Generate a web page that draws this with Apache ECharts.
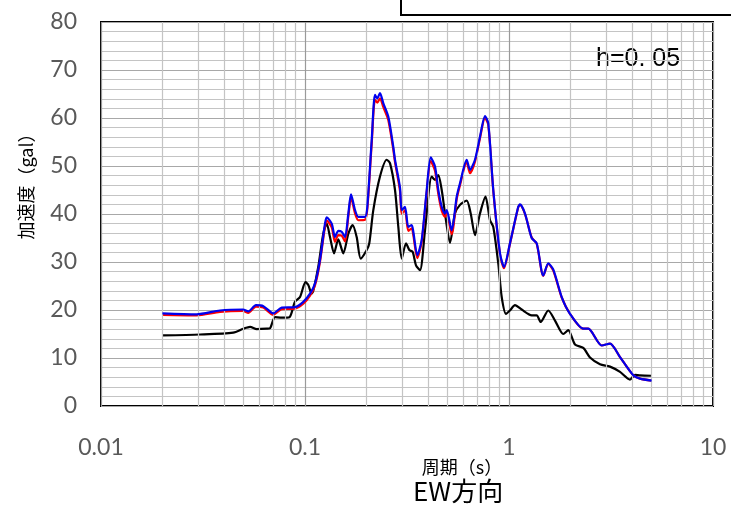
<!DOCTYPE html>
<html>
<head>
<meta charset="utf-8">
<script src="https://cdn.jsdelivr.net/npm/echarts@6/dist/echarts.min.js"></script>
<style>
  html, body { margin: 0; padding: 0; background: #fff; }
  #chart { width: 731px; height: 507px; }
</style>
</head>
<body>
<div id="chart"></div>
<script>
// Acceleration response spectra (h = 0.05), EW component
// Period (s) / acceleration (gal) pairs for each spectrum

const periodsBlack = [0.0200, 0.0306, 0.0445, 0.0498, 0.0538, 0.0580, 0.0649, 0.0674, 0.0713, 0.0769,
  0.0838, 0.0893, 0.0945, 0.1006, 0.1038, 0.1078, 0.1098, 0.1162, 0.1229, 0.1278,
  0.1326, 0.1388, 0.1456, 0.1541, 0.1631, 0.1713, 0.1792, 0.1875, 0.2007, 0.2066,
  0.2162, 0.2331, 0.2515, 0.2610, 0.2762, 0.2867, 0.2979, 0.3127, 0.3246, 0.3372,
  0.3500, 0.3662, 0.3875, 0.4179, 0.4338, 0.4502, 0.4679, 0.4857, 0.5139, 0.5436,
  0.5752, 0.6203, 0.6490, 0.6812, 0.7207, 0.7670, 0.8071, 0.8375, 0.8860, 0.9209,
  0.9667, 1.011, 1.070, 1.154, 1.292, 1.367, 1.430, 1.558, 1.681, 1.846,
  1.953, 2.106, 2.313, 2.495, 2.793, 3.127, 3.501, 3.918, 4.147, 4.387, 5.000];
const accBlack = [14.7, 14.9, 15.3, 16.1, 16.5, 16.0, 16.1, 16.2, 18.5, 18.4,
  18.5, 21.7, 22.7, 25.8, 25.2, 23.4, 24.0, 29.0, 35.9, 38.0,
  35.2, 31.8, 34.7, 31.8, 35.9, 37.7, 35.2, 30.7, 32.5, 33.9,
  40.8, 47.8, 51.3, 50.6, 45.0, 37.3, 30.7, 33.9, 32.5, 32.1,
  29.3, 28.3, 36.6, 47.8, 47.1, 48.1, 45.0, 40.1, 34.0, 40.1,
  41.9, 42.8, 40.1, 35.6, 40.1, 43.6, 38.7, 37.3, 29.7, 22.7,
  19.2, 19.9, 21.0, 20.1, 18.9, 18.9, 17.5, 19.9, 17.8, 15.0,
  15.8, 12.8, 12.1, 10.1, 8.7, 8.2, 7.1, 5.5, 6.5, 6.4, 6.3];

const periodsModel = [0.0200, 0.0294, 0.0383, 0.0497, 0.0527, 0.0575, 0.0625, 0.0699, 0.0769, 0.0893,
  0.0981, 0.1058, 0.1119, 0.1184, 0.1253, 0.1278, 0.1352, 0.1403, 0.1456, 0.1513,
  0.1571, 0.1631, 0.1681, 0.1759, 0.1826, 0.1968, 0.2020, 0.2123, 0.2203, 0.2261,
  0.2331, 0.2419, 0.2560, 0.2709, 0.2762, 0.2922, 0.2979, 0.3092, 0.3209, 0.3334,
  0.3396, 0.3552, 0.3733, 0.3950, 0.4132, 0.4338, 0.4502, 0.4679, 0.4857, 0.4951,
  0.5238, 0.5542, 0.5752, 0.6203, 0.6438, 0.6812, 0.7207, 0.7628, 0.7916, 0.8375,
  0.9035, 0.9451, 1.011, 1.110, 1.132, 1.198, 1.292, 1.367, 1.473, 1.558,
  1.649, 1.813, 1.991, 2.313, 2.447, 2.848, 3.127, 3.501, 4.067, 4.387, 5.000];
const accRed = [19.0, 18.9, 19.6, 19.8, 19.4, 20.7, 20.5, 19.0, 20.2, 20.3,
  21.3, 23.0, 25.1, 30.0, 37.4, 38.6, 37.2, 34.2, 35.6, 35.5,
  34.3, 39.5, 43.5, 40.1, 38.7, 38.8, 41.0, 54.6, 63.8, 63.2,
  64.1, 62.3, 59.6, 53.4, 50.8, 44.8, 40.0, 40.8, 36.5, 37.0,
  35.6, 30.8, 34.2, 44.5, 51.0, 49.0, 44.2, 40.7, 39.4, 40.1,
  35.8, 43.1, 46.0, 50.8, 48.5, 50.9, 55.8, 60.0, 58.6, 44.8,
  31.6, 28.7, 33.8, 41.4, 41.9, 40.0, 35.1, 33.8, 27.1, 29.6,
  28.2, 22.6, 19.2, 16.1, 16.1, 12.6, 13.0, 10.2, 6.4, 5.7, 5.3];
const accBlue = [19.3, 19.1, 19.9, 20.1, 19.7, 21.0, 20.8, 19.3, 20.5, 20.6,
  21.7, 23.4, 25.5, 30.4, 38.0, 39.3, 38.0, 35.2, 36.5, 36.3,
  35.2, 40.1, 44.1, 40.8, 39.4, 39.4, 41.5, 55.4, 64.8, 64.1,
  65.2, 63.1, 60.3, 54.0, 51.3, 45.5, 40.8, 41.5, 37.3, 37.7,
  36.3, 31.4, 34.6, 45.0, 51.8, 49.9, 45.0, 41.5, 40.1, 40.8,
  36.6, 43.6, 46.4, 51.3, 49.2, 51.3, 56.1, 60.4, 58.9, 45.0,
  31.8, 29.0, 33.9, 41.5, 42.0, 40.1, 35.0, 33.9, 27.2, 29.7,
  28.4, 22.7, 19.2, 16.1, 16.1, 12.6, 13.0, 10.2, 6.4, 5.7, 5.3];

// Axis ticks
const periodTickLabels = ['0.01', '0.1', '1', '10'];
const minorPeriods = [0.02, 0.03, 0.04, 0.05, 0.06, 0.07, 0.08, 0.09,
  0.2, 0.3, 0.4, 0.5, 0.6, 0.7, 0.8, 0.9,
  2, 3, 4, 5, 6, 7, 8, 9];

const zip = (xs, ys) => xs.map((x, i) => [x, ys[i]]);

const chart = echarts.init(document.getElementById('chart'), null, { renderer: 'canvas' });

const labelFont = 'Lato, "Liberation Sans", sans-serif';
const cjkFont = '"Noto Sans CJK JP", sans-serif';

const curve = (data, color, z) => ({
  type: 'line',
  data: data,
  showSymbol: false,
  smooth: 0.25,
  z: z,
  lineStyle: { color: color, width: 2.2 },
  itemStyle: { color: color }
});

chart.setOption({
  animation: false,
  backgroundColor: '#ffffff',
  title: {
    text: 'EW方向',
    left: 413,
    top: 478,
    padding: 0,
    textStyle: { fontFamily: cjkFont, fontSize: 26, fontWeight: 'normal', color: '#000' }
  },
  grid: {
    left: 101, right: 18, top: 22, bottom: 101,
    show: true, borderColor: '#000', borderWidth: 2, backgroundColor: 'transparent'
  },
  xAxis: {
    type: 'log',
    logBase: 10,
    min: 0.01,
    max: 10,
    axisLine: { show: false },
    axisTick: { show: false },
    splitLine: { show: true, lineStyle: { color: '#9a9a9a', width: 1.2 } },
    axisLabel: {
      margin: 30,
      color: '#595959',
      fontSize: 23,
      fontFamily: labelFont,
      showMinLabel: true,
      showMaxLabel: true,
      formatter: v => periodTickLabels[Math.round(Math.log10(v)) + 2]
    }
  },
  yAxis: {
    type: 'value',
    min: 0,
    max: 80,
    interval: 10,
    axisLine: { show: false },
    axisTick: { show: false },
    splitLine: { show: true, lineStyle: { color: '#a8a8a8', width: 1.2 } },
    minorTick: { show: false, splitNumber: 5 },
    minorSplitLine: { show: true, lineStyle: { color: '#c4c4c4', width: 1.2 } },
    axisLabel: {
      margin: 24,
      color: '#595959',
      fontSize: 23,
      fontFamily: labelFont
    }
  },
  series: [
    {
      // minor vertical grid lines of the log period axis
      type: 'line',
      data: [],
      z: 1,
      silent: true,
      markLine: {
        silent: true,
        symbol: ['none', 'none'],
        label: { show: false },
        lineStyle: { color: '#c4c4c4', type: 'solid', width: 1.2 },
        emphasis: { disabled: true },
        data: minorPeriods.map(p => ({ xAxis: p }))
      }
    },
    curve(zip(periodsBlack, accBlack), '#000000', 3),
    curve(zip(periodsModel, accRed), '#ff0000', 4),
    curve(zip(periodsModel, accBlue), '#0000ee', 5)
  ],
  graphic: [
    {
      // damping annotation
      type: 'group',
      z: 10,
      children: [
        { type: 'rect', shape: { x: 588, y: 45, width: 104, height: 43 }, style: { fill: '#ffffff' } },
        {
          type: 'text', x: 596, y: 59,
          style: { text: 'h=0. 05', font: '25px "Liberation Sans", Arial, sans-serif', fill: '#000', verticalAlign: 'middle' }
        }
      ]
    },
    {
      // legend frame along the top edge
      type: 'rect', z: 10,
      shape: { x: 401, y: -20, width: 360, height: 35 },
      style: { fill: '#ffffff', stroke: '#000000', lineWidth: 2 }
    },
    {
      type: 'text', z: 10, x: 462, y: 467,
      style: { text: '周期（s）', font: '18px "Noto Sans CJK JP", sans-serif', fill: '#000', align: 'center', verticalAlign: 'middle' }
    },
    {
      type: 'text', z: 10, x: 26, y: 182, rotation: Math.PI / 2,
      style: { text: '加速度（gal）', font: '18px "Noto Sans CJK JP", sans-serif', fill: '#000', align: 'center', verticalAlign: 'middle' }
    }
  ]
});
</script>
</body>
</html>
